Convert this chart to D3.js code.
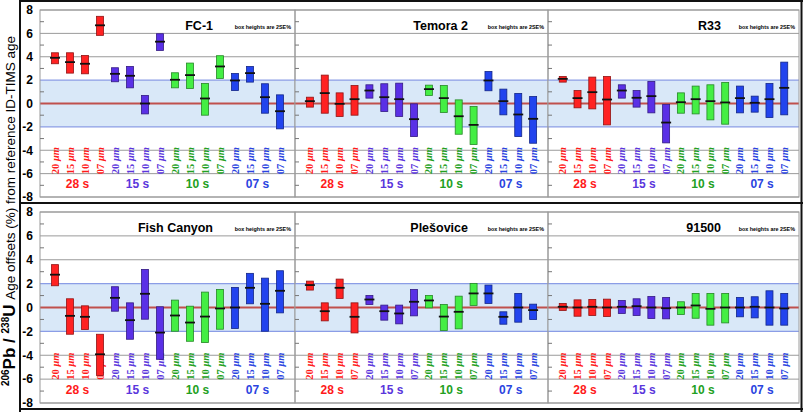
<!DOCTYPE html>
<html><head><meta charset="utf-8">
<script src="https://cdn.jsdelivr.net/npm/d3@7"></script>
<style>body{margin:0;background:#fff}</style>
</head><body><svg id="c" width="803" height="412"></svg>
<script>
// ---------- DATA ----------
const panelNames = ["FC-1", "Temora 2", "R33", "Fish Canyon", "Plešovice", "91500"];
const spotSizes = ["20", "15", "10", "07"];
const groupLabels = ["28 s", "15 s", "10 s", "07 s"];
const yTickValues = [8, 6, 4, 2, 0, -2, -4, -6, -8];

const fc1Hi   = [4.34, 4.34, 4.11, 7.46, 3.06, 3.17, 0.69, 5.97, 2.63, 3.46, 1.71, 4.09, 2.57, 3.17, 1.69, 0.74];
const fc1Lo   = [3.40, 2.60, 2.54, 5.83, 1.86, 1.34, -0.89, 4.54, 1.34, 1.29, -1.00, 2.14, 1.11, 1.83, -0.83, -2.17];
const fc1Mean = [3.91, 3.54, 3.40, 6.69, 2.54, 2.37, 0.00, 5.29, 2.03, 2.43, 0.43, 3.17, 1.97, 2.60, 0.54, -0.66];

const temHi   = [0.54, 2.43, 0.91, 1.54, 1.60, 1.69, 1.74, -0.03, 1.57, 1.54, 0.31, -0.26, 2.74, 1.23, 0.86, 0.60];
const temLo   = [-0.31, -0.83, -1.11, -1.00, 0.46, -0.69, -1.11, -2.83, 0.69, -0.77, -2.63, -3.51, 1.09, -0.97, -2.83, -3.40];
const temMean = [0.20, 0.89, -0.03, 0.37, 1.11, 0.54, 0.37, -1.34, 1.23, 0.46, -1.09, -1.83, 1.97, 0.20, -0.94, -1.31];

const r33Hi   = [2.31, 1.11, 2.26, 2.31, 1.60, 1.11, 1.89, -0.09, 0.91, 1.49, 1.60, 1.80, 1.49, 0.63, 1.71, 3.54];
const r33Lo   = [1.83, -0.37, -0.46, -1.83, 0.46, -0.31, -0.80, -3.37, -0.83, -0.89, -1.40, -1.77, -0.80, -0.74, -1.20, -0.97];
const r33Mean = [2.11, 0.46, 0.97, 0.34, 1.11, 0.49, 0.63, -1.63, 0.11, 0.37, 0.20, 0.09, 0.46, 0.06, 0.37, 1.34];

const fcHi    = [3.59, 0.73, 0.14, -2.24, 1.74, 0.39, 3.19, 0.06, 0.62, 0.11, 1.29, 1.51, 1.68, 2.86, 2.46, 3.08];
const fcLo    = [1.82, -2.24, -1.85, -5.69, -0.31, -2.66, -0.98, -4.34, -1.99, -2.83, -2.94, -1.82, -1.76, 0.31, -1.99, -0.45];
const fcMean  = [2.75, -0.70, -0.78, -3.92, 0.81, -1.06, 1.15, -2.10, -0.67, -1.26, -0.76, -0.08, 0.00, 1.65, 0.31, 1.40];

const pleHi   = [2.21, 0.39, 2.38, 0.39, 1.01, 0.20, 0.20, 1.51, 1.01, 0.25, 0.95, 2.02, 1.88, -0.36, 1.18, 0.28];
const pleLo   = [1.46, -1.12, 0.76, -2.13, 0.25, -1.06, -1.37, -0.70, -0.03, -1.93, -1.79, 0.17, 0.34, -1.40, -1.23, -1.01];
const pleMean = [1.88, -0.31, 1.65, -0.78, 0.67, -0.31, -0.50, 0.48, 0.59, -0.76, -0.36, 1.18, 1.18, -0.78, 0.00, -0.22];

const z91Hi   = [0.34, 0.64, 0.67, 0.70, 0.59, 0.73, 0.92, 0.84, 0.48, 1.18, 1.18, 1.18, 0.84, 0.90, 1.40, 1.18];
const z91Lo   = [-0.25, -0.73, -0.67, -0.76, -0.50, -0.67, -0.92, -0.95, -0.59, -0.90, -1.48, -1.29, -0.78, -0.87, -1.48, -1.48];
const z91Mean = [0.06, 0.00, 0.06, 0.00, 0.06, 0.11, 0.00, -0.06, 0.00, 0.17, -0.11, 0.00, 0.00, 0.06, 0.00, -0.08];

// ---------- STYLE ----------
const barFill  = ["#ff2222", "#5a30e6", "#44ee44", "#2244ee"];
const textFill = ["#ff1a1a", "#5a36dc", "#22a022", "#2a44e0"];

const panelData = [
  [fc1Hi, fc1Lo, fc1Mean], [temHi, temLo, temMean], [r33Hi, r33Lo, r33Mean],
  [fcHi, fcLo, fcMean], [pleHi, pleLo, pleMean], [z91Hi, z91Lo, z91Mean]
];

const rows = [{top: 10, bottom: 197}, {top: 212, bottom: 403}];
const cols = [{x0: 40, x1: 295}, {x0: 295, x1: 548}, {x0: 548, x1: 799}];

const svg = d3.select("#c");
const cats = [];
groupLabels.forEach((g, gi) => spotSizes.forEach(s => cats.push(gi + "-" + s)));

panelNames.forEach((name, p) => {
  const r = rows[Math.floor(p / 3)], c = cols[p % 3];
  const y = d3.scaleLinear().domain([-8, 8]).range([r.bottom, r.top]);
  const x = d3.scalePoint().domain(cats).range([c.x0, c.x1]).padding(1);
  const g = svg.append("g");
  const [hi, lo, mean] = panelData[p];

  // band
  g.append("rect").attr("x", c.x0).attr("width", c.x1 - c.x0)
    .attr("y", y(2)).attr("height", y(-2) - y(2)).attr("fill", "#d9e8f8");
  // grid
  yTickValues.filter(v => Math.abs(v) > 2).forEach(v => {
    g.append("line").attr("x1", c.x0).attr("x2", c.x1).attr("y1", y(v)).attr("y2", y(v))
      .attr("stroke", "#9a9a9a").attr("stroke-width", 1);
  });
  [2, -2].forEach(v => g.append("line").attr("x1", c.x0).attr("x2", c.x1)
    .attr("y1", y(v)).attr("y2", y(v)).attr("stroke", "#8b9de6").attr("stroke-width", 1.2));
  g.append("line").attr("x1", c.x0).attr("x2", c.x1).attr("y1", y(0)).attr("y2", y(0))
    .attr("stroke", "#c0504d").attr("stroke-width", 2);
  // panel border
  g.append("rect").attr("x", c.x0).attr("y", r.top).attr("width", c.x1 - c.x0)
    .attr("height", r.bottom - r.top).attr("fill", "none").attr("stroke", "#9a9a9a");
  // minor ticks on left edge
  d3.range(-7, 8, 2).forEach(v => g.append("line").attr("x1", c.x0).attr("x2", c.x0 + 4)
    .attr("y1", y(v)).attr("y2", y(v)).attr("stroke", "#777"));

  // y axis labels on first column
  if (p % 3 === 0) {
    const ax = d3.axisLeft(y).tickValues(yTickValues).tickSize(0).tickPadding(7)
      .tickFormat(d => String(d));
    const axg = svg.append("g").attr("transform", `translate(${c.x0},0)`).call(ax);
    axg.select(".domain").remove();
    axg.selectAll("text").attr("font-family", "Liberation Sans, Arial, sans-serif")
      .attr("font-weight", "bold").attr("font-size", 12).attr("fill", "#000");
  }

  // titles
  g.append("text").attr("x", c.x0 + 173).attr("y", y(6.3)).attr("text-anchor", "end")
    .attr("font-family", "Liberation Sans, Arial, sans-serif").attr("font-weight", "bold")
    .attr("font-size", 12.5).text(name);
  g.append("text").attr("x", c.x1 - 4).attr("y", y(6.4)).attr("text-anchor", "end")
    .attr("font-family", "Liberation Sans, Arial, sans-serif").attr("font-weight", "bold")
    .attr("font-size", 5.4).text("box heights are 2SE%");

  // spot size labels (rotated)
  cats.forEach((k, i) => {
    const gi = Math.floor(i / 4);
    const t = g.append("text")
      .attr("transform", `translate(${x(k) + 3.5},${y(-6.05)}) rotate(-90)`)
      .attr("font-family", "Liberation Serif, Times New Roman, serif")
      .attr("font-weight", "bold").attr("font-size", 10.5).attr("fill", textFill[gi]);
    t.append("tspan").text(spotSizes[i % 4] + " ");
    t.append("tspan").attr("font-style", "italic").text("μm");
  });
  // group labels
  groupLabels.forEach((lab, gi) => {
    const xs = cats.slice(gi * 4, gi * 4 + 4).map(k => x(k));
    g.append("text").attr("x", d3.mean(xs)).attr("y", y(-6.85) + 4.3)
      .attr("text-anchor", "middle").attr("font-family", "Liberation Sans, Arial, sans-serif")
      .attr("font-weight", "bold").attr("font-size", 12).attr("fill", textFill[gi]).text(lab);
  });

  // bars
  cats.forEach((k, i) => {
    const gi = Math.floor(i / 4);
    g.append("rect").attr("x", x(k) - 3.5).attr("width", 7)
      .attr("y", y(hi[i])).attr("height", y(lo[i]) - y(hi[i]))
      .attr("fill", barFill[gi]).attr("stroke", d3.color(barFill[gi]).darker(1.6))
      .attr("stroke-width", 0.8);
    g.append("line").attr("x1", x(k) - 5).attr("x2", x(k) + 5)
      .attr("y1", y(mean[i])).attr("y2", y(mean[i]))
      .attr("stroke", "#111").attr("stroke-width", 1.8);
  });
});

// outer frame
const frame = svg.append("g").attr("stroke", "#111").attr("stroke-width", 2);
frame.append("line").attr("x1", 20).attr("x2", 20).attr("y1", 0).attr("y2", 412);
frame.append("line").attr("x1", 20).attr("x2", 803).attr("y1", 1).attr("y2", 1);
frame.append("line").attr("x1", 20).attr("x2", 803).attr("y1", 203).attr("y2", 203);
frame.append("line").attr("x1", 20).attr("x2", 803).attr("y1", 409).attr("y2", 409);
frame.append("line").attr("x1", 801.5).attr("x2", 801.5).attr("y1", 0).attr("y2", 412);

// y axis title
const yt = svg.append("text").attr("transform", "translate(15,211) rotate(-90)")
  .attr("text-anchor", "middle").attr("font-family", "Liberation Sans, Arial, sans-serif")
  .attr("fill", "#000");
yt.append("tspan").attr("font-weight", "bold").attr("font-size", 10).attr("dy", -6).text("206");
yt.append("tspan").attr("font-weight", "bold").attr("font-size", 17).attr("dy", 6).text("Pb / ");
yt.append("tspan").attr("font-weight", "bold").attr("font-size", 10).attr("dy", -6).text("238");
yt.append("tspan").attr("font-weight", "bold").attr("font-size", 17).attr("dy", 6).text("U ");
yt.append("tspan").attr("font-size", 13.5).text("Age offsets (%) from reference ID-TIMS age");
</script></body></html>
